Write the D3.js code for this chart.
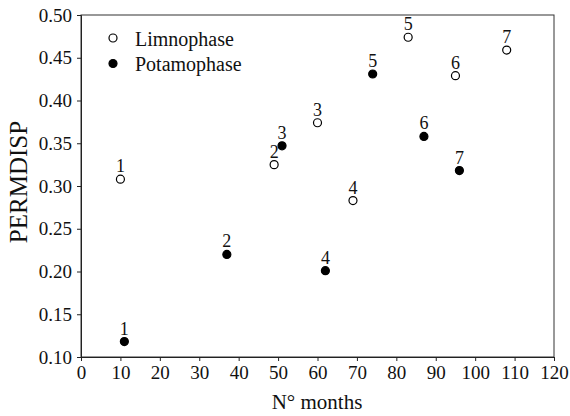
<!DOCTYPE html>
<html><head><meta charset="utf-8">
<script src="https://cdn.jsdelivr.net/npm/d3@7"></script>
<style>body{margin:0;background:#fff}svg{display:block}text{font-family:"Liberation Serif","Times New Roman",serif}</style>
</head><body><svg id="c" width="570" height="416"></svg>
<script>
const limnoX = [10, 49, 60, 69, 83, 95, 108];
const limnoY = [0.308, 0.325, 0.374, 0.283, 0.474, 0.429, 0.459];
const limnoLabels = ["1","2","3","4","5","6","7"];
const potamoX = [11, 37, 51, 62, 74, 87, 96];
const potamoY = [0.118, 0.220, 0.347, 0.201, 0.431, 0.358, 0.318];
const potamoLabels = ["1","2","3","4","5","6","7"];
const xTicks = d3.range(0, 121, 10);
const yTicks = [0.10,0.15,0.20,0.25,0.30,0.35,0.40,0.45,0.50];
const seriesNames = ["Limnophase", "Potamophase"];

const svg = d3.select("#c");
const L=81, R=554, T=15, B=357;
const x = d3.scaleLinear().domain([0,120]).range([L,R]);
const y = d3.scaleLinear().domain([0.10,0.50]).range([B,T]);
const FF = "'Liberation Serif','Times New Roman',serif";

// frame
svg.append("rect").attr("x",L).attr("y",T).attr("width",R-L).attr("height",B-T)
  .attr("fill","none").attr("stroke","#333").attr("stroke-width",1);

const xa = svg.append("g").attr("transform",`translate(0,${B})`)
  .call(d3.axisBottom(x).tickValues(xTicks).tickSize(4).tickPadding(5).tickFormat(d3.format("d")));
const ya = svg.append("g").attr("transform",`translate(${L},0)`)
  .call(d3.axisLeft(y).tickValues(yTicks).tickSize(4).tickPadding(5).tickFormat(d3.format(".2f")));
[xa,ya].forEach(a=>{
  a.attr("font-family",FF);
  a.select(".domain").attr("stroke","#222");
  a.selectAll(".tick line").attr("stroke","#222");
  a.selectAll(".tick text").attr("font-size",19).attr("fill","#111").style("font-family",FF);
});

svg.append("text").attr("x",317).attr("y",409).attr("text-anchor","middle")
  .attr("font-size",21).attr("fill","#111").text("N° months");
svg.append("text").attr("transform",`translate(27,182) rotate(-90)`).attr("text-anchor","middle")
  .attr("font-size",25).attr("fill","#111").text("PERMDISP");

function drawSeries(xs, ys, labels, filled){
  const g = svg.append("g");
  g.selectAll("circle").data(xs).join("circle")
    .attr("cx",(d)=>x(d)).attr("cy",(d,i)=>y(ys[i])).attr("r",4)
    .attr("fill",filled?"#000":"#fff").attr("stroke","#000").attr("stroke-width",1.2);
  g.selectAll("text").data(xs).join("text")
    .attr("x",(d)=>x(d)).attr("y",(d,i)=>y(ys[i])-7).attr("text-anchor","middle")
    .attr("font-size",18).attr("fill","#111").text((d,i)=>labels[i]);
}
drawSeries(limnoX, limnoY, limnoLabels, false);
drawSeries(potamoX, potamoY, potamoLabels, true);

// legend
const leg = svg.append("g");
seriesNames.forEach((n,i)=>{
  leg.append("circle").attr("cx",113).attr("cy",38+i*25.5).attr("r",4)
    .attr("fill",i?"#000":"#fff").attr("stroke","#000").attr("stroke-width",1.2);
  leg.append("text").attr("x",135).attr("y",45.5+i*25.5).attr("font-size",20).attr("fill","#111").text(n);
});
</script></body></html>
